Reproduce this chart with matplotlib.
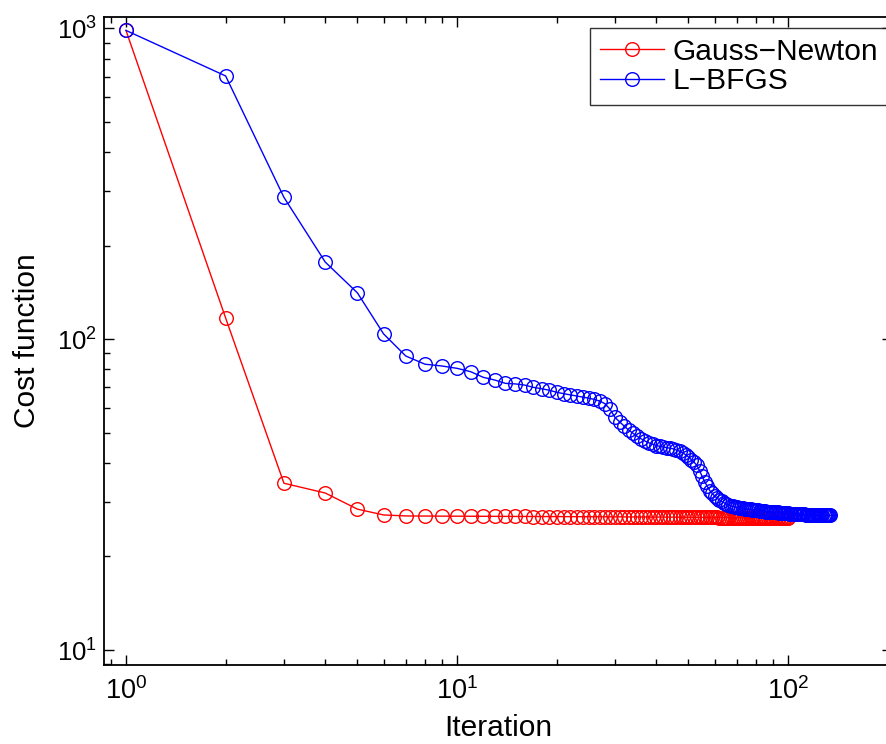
import matplotlib
matplotlib.use("Agg")
import matplotlib.pyplot as plt
from matplotlib.ticker import LogLocator, LogFormatterMathtext, NullFormatter

plt.rcParams["font.family"] = ["Liberation Sans", "DejaVu Sans"]
plt.rcParams["mathtext.fontset"] = "custom"
plt.rcParams["mathtext.rm"] = "Liberation Sans"
plt.rcParams["mathtext.it"] = "Liberation Sans:italic"
plt.rcParams["mathtext.bf"] = "Liberation Sans:bold"

# Cost per iteration, Gauss-Newton solver
gauss_newton = [
    985, 117, 34.4, 32.0, 28.4, 27.2, 27.0,
    26.98, 26.96, 26.95, 26.94, 26.93, 26.92, 26.91, 26.9, 26.9, 26.89, 26.88, 26.88, 26.87,
    26.87, 26.86, 26.86, 26.85, 26.85, 26.84, 26.84, 26.83, 26.83, 26.82,
    26.82, 26.81, 26.81, 26.8, 26.8, 26.8, 26.79, 26.79, 26.78, 26.78,
    26.78, 26.77, 26.77, 26.76, 26.76, 26.76, 26.75, 26.75, 26.74, 26.74,
    26.74, 26.73, 26.73, 26.72, 26.72, 26.72, 26.71, 26.71, 26.7, 26.7,
    26.7, 26.69, 26.69, 26.68, 26.68, 26.68, 26.67, 26.67, 26.66, 26.66,
    26.66, 26.65, 26.65, 26.65, 26.64, 26.64, 26.63, 26.63, 26.63, 26.62,
    26.62, 26.62, 26.61, 26.61, 26.6, 26.6, 26.6, 26.59, 26.59, 26.59,
    26.58, 26.58, 26.58, 26.57, 26.57, 26.57, 26.56, 26.56, 26.56, 26.55,
]

# Cost per iteration, L-BFGS solver
lbfgs = [
    985, 703, 286, 177, 141, 104, 88.3, 83.1, 82.0, 80.6,
    78.6, 75.4, 73.9, 72.1, 71.8, 71.2, 70.0, 69.3, 68.5, 67.5,
    66.8, 66.2, 65.6, 65.1, 64.6, 64.0, 63.2, 62.0, 59.5, 56.0,
    54.2, 52.5, 51.0, 49.8, 48.7, 47.8, 47.0, 46.4, 45.9, 45.5,
    45.2, 45.0, 44.8, 44.6, 44.4, 44.0, 43.6, 43.1, 42.5, 41.8,
    41.0, 40.2, 39.3, 37.8, 36.2, 34.8, 33.6, 32.6, 31.9, 31.3,
    30.8, 30.4, 30.1, 29.8, 29.5, 29.3, 29.1, 29.0, 28.9, 28.8,
    28.7, 28.6, 28.55, 28.5, 28.45, 28.4, 28.35, 28.3, 28.25, 28.2,
    28.15, 28.1, 28.05, 28.0, 27.95, 27.9, 27.9, 27.85, 27.8, 27.8,
    27.75, 27.7, 27.7, 27.65, 27.6, 27.6, 27.55, 27.55, 27.5, 27.5,
    27.45, 27.45, 27.4, 27.4, 27.4, 27.38, 27.36, 27.35, 27.34, 27.32,
    27.3, 27.3, 27.28, 27.27, 27.26, 27.25, 27.24, 27.23, 27.22, 27.21,
    27.2, 27.2, 27.19, 27.18, 27.17, 27.16, 27.15, 27.15, 27.14, 27.13,
    27.12, 27.11, 27.1, 27.1,
]

series_labels = ["Gauss\u2212Newton", "L\u2212BFGS"]
x_label = "Iteration"
y_label = "Cost function"

it_gn = list(range(1, len(gauss_newton) + 1))
it_lb = list(range(1, len(lbfgs) + 1))

W, H = 887, 744
fig = plt.figure(figsize=(W / 100, H / 100), dpi=100)
left, right, bottom, top = 104.3, 892.0, 665.0, 17.0
ax = fig.add_axes([left / W, 1 - bottom / H, (right - left) / W, (bottom - top) / H])

style = dict(marker="o", markersize=9.8, markerfacecolor="none",
             linewidth=1.0, markeredgewidth=1.0)
ax.plot(it_gn, gauss_newton, color=(1, 0, 0), label=series_labels[0], **style)
ax.plot(it_lb, lbfgs, color=(0, 0, 1), label=series_labels[1], **style)

ax.set_xscale("log")
ax.set_yscale("log")
ax.set_xlim(0.86, 206)
ax.set_ylim(8.95, 1088)

for a in (ax.xaxis, ax.yaxis):
    a.set_major_locator(LogLocator(base=10, numticks=10))
    a.set_minor_locator(LogLocator(base=10, subs=range(2, 10), numticks=20))
    a.set_major_formatter(LogFormatterMathtext())
    a.set_minor_formatter(NullFormatter())

ax.tick_params(which="both", direction="in", top=True, right=True, width=1.0, color="black")
ax.tick_params(which="major", length=7)
ax.tick_params(which="minor", length=4)
ax.tick_params(axis="x", which="major", labelsize=19.5, pad=9)
ax.tick_params(axis="y", which="major", labelsize=18.5, pad=5)
for s in ax.spines.values():
    s.set_linewidth(1.3)

ax.set_xlabel(x_label, fontsize=21.5, labelpad=6)
ax.set_ylabel(y_label, fontsize=21.5, labelpad=12)

leg = ax.legend(loc="upper right", bbox_to_anchor=(888 / W, 1 - 28 / H),
                bbox_transform=fig.transFigure, fontsize=21.5,
                numpoints=1, handlelength=2.15, handletextpad=0.27,
                borderpad=0.33, labelspacing=0.05, borderaxespad=0.0,
                fancybox=False, frameon=True)
leg.get_frame().set_edgecolor("black")
leg.get_frame().set_linewidth(1.0)

fig.savefig("out.png", dpi=100)
